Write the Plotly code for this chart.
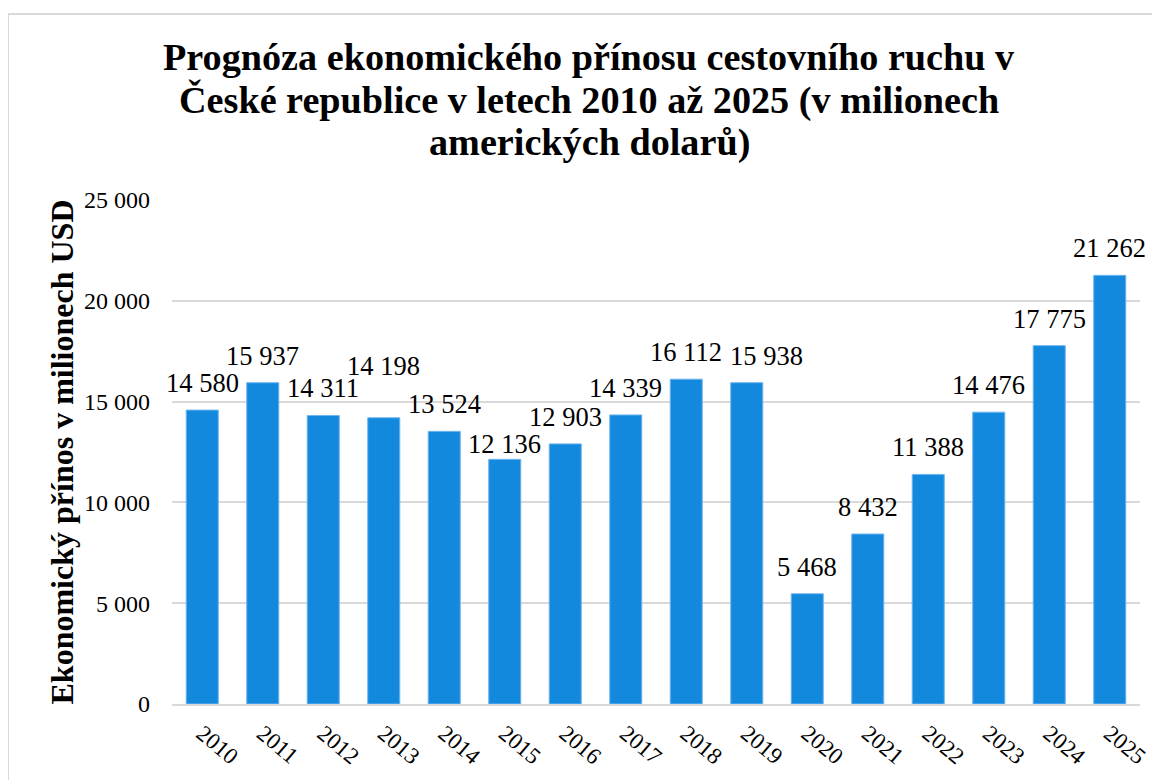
import plotly.graph_objects as go

years = [str(y) for y in range(2010, 2026)]
values = [14580, 15937, 14311, 14198, 13524, 12136, 12903, 14339,
          16112, 15938, 5468, 8432, 11388, 14476, 17775, 21262]
y_ticks = [0, 5000, 10000, 15000, 20000, 25000]
y_tick_labels = ["0", "5 000", "10 000", "15 000", "20 000", "25 000"]

title_lines = ["Prognóza ekonomického přínosu cestovního ruchu v",
               "České republice v letech 2010 až 2025 (v milionech",
               "amerických dolarů)"]
y_title = "Ekonomický přínos v milionech USD"

SERIF = "Liberation Serif"
BAR_COLOR = "#1389DD"
GRID = "#D9D9D9"

# label offsets (px) and per-year tweaks mimicking the original label layout
LABEL_SHIFT = 10
LABEL_SHIFT_EXTRA = {"2013": 25, "2015": -12}
LABEL_XSHIFT = {"2019": 20}


def fmt(v):
    return f"{v:,}".replace(",", " ")


# the page body adds an 8 px margin, so the figure is drawn 8 px smaller
OFF = 8
W, H = 1160 - OFF, 780 - OFF
L, R, T, B = 172 - OFF, 1160 - 1140, 200 - OFF, 780 - 704
pw, ph = W - L - R, H - T - B


def py(page_y):
    return (H - B - (page_y - OFF)) / ph


def px(page_x):
    return (page_x - OFF - L) / pw


fig = go.Figure()
fig.add_trace(go.Bar(
    x=years, y=values,
    marker=dict(color=BAR_COLOR, line=dict(color="#6FB5EE", width=1)),
    width=0.53,
    hoverinfo="x+y",
))

for i, (yr, v) in enumerate(zip(years, values)):
    fig.add_annotation(
        x=i, y=v, xref="x", yref="y", text=fmt(v), showarrow=False,
        yanchor="bottom", xanchor="center",
        yshift=LABEL_SHIFT + LABEL_SHIFT_EXTRA.get(yr, 0),
        xshift=LABEL_XSHIFT.get(yr, 0),
        font=dict(family=SERIF, size=26.5, color="#000000"),
    )

# title, one annotation per line to match the original line spacing
for k, line in enumerate(title_lines):
    fig.add_annotation(
        x=px(589), y=py(57 + 43 * k), xref="paper", yref="paper",
        text=line, showarrow=False, xanchor="center", yanchor="middle",
        font=dict(family=SERIF, size=38.2, color="#000000", weight="bold"),
    )

# outer light-gray chart border
fig.add_shape(
    type="rect", xref="paper", yref="paper",
    x0=px(8), x1=px(1170), y0=py(790), y1=py(14),
    line=dict(color="#D9D9D9", width=2), fillcolor="rgba(0,0,0,0)",
    layer="below",
)

fig.update_layout(
    width=W, height=H,
    margin=dict(l=L, r=R, t=T, b=B, pad=0, autoexpand=False),
    paper_bgcolor="white", plot_bgcolor="white",
    showlegend=False,
    xaxis=dict(
        type="category", tickangle=40, automargin=False,
        range=[-0.5, len(years) - 0.5],
        tickfont=dict(family=SERIF, size=23, color="#000000"),
        showgrid=False, showline=True, linecolor=GRID, linewidth=2,
        ticks="", ticklabelstandoff=5,
    ),
    yaxis=dict(
        range=[0, 25000], tickvals=y_ticks, ticktext=y_tick_labels,
        automargin=False,
        tickfont=dict(family=SERIF, size=24, color="#000000"),
        showgrid=True, gridcolor=GRID, gridwidth=2,
        zeroline=False, showline=False, ticks="", ticklabelstandoff=21,
        title=dict(text=y_title, standoff=0,
                   font=dict(family=SERIF, size=32, color="#000000", weight="bold")),
    ),
)

fig.write_html("out.html")
